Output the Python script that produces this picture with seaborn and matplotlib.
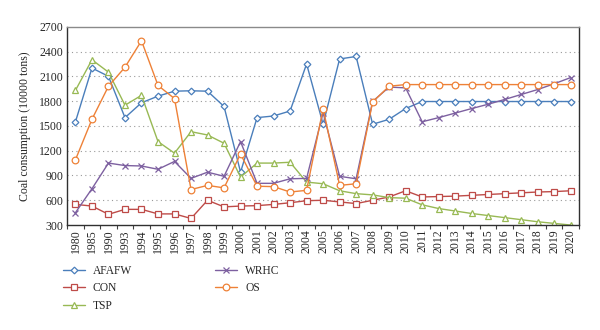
import numpy as np
import pandas as pd
import matplotlib
matplotlib.use("Agg")
import matplotlib.pyplot as plt
import seaborn as sns

years = ["1980", "1985", "1990"] + [str(y) for y in range(1993, 2021)]

afafw = [1550, 2200, 2100, 1600, 1780, 1860, 1920, 1925, 1920, 1735,
         940, 1600, 1620, 1680, 2250, 1520, 2310, 2340, 1520, 1580,
         1710, 1795, 1795, 1795, 1795, 1795, 1795, 1795, 1795, 1795, 1795]
con = [550, 530, 430, 490, 490, 435, 435, 380, 600, 520,
       530, 535, 550, 570, 595, 600, 580, 560, 600, 640,
       715, 640, 645, 650, 660, 670, 680, 690, 700, 705, 715]
tsp = [1930, 2300, 2150, 1750, 1870, 1310, 1170, 1430, 1390, 1290,
       880, 1050, 1050, 1060, 820, 800, 715, 680, 665, 632,
       625, 545, 500, 470, 440, 415, 390, 365, 340, 320, 300]
wrhc = [450, 740, 1050, 1020, 1015, 975, 1070, 865, 940, 890,
        1310, 805, 805, 860, 865, 1660, 890, 860, 1796, 1970,
        1960, 1550, 1600, 1655, 1710, 1762, 1820, 1880, 1940, 2010, 2085]
os_ = [1090, 1580, 1980, 2210, 2530, 1990, 1830, 730, 780, 750,
       1160, 770, 765, 700, 720, 1710, 780, 800, 1790, 1980,
       2000, 2000, 2000, 2000, 2000, 2000, 2000, 2000, 2000, 2000, 2000]

series_names = ["AFAFW", "CON", "TSP", "WRHC", "OS"]
series_vals = [afafw, con, tsp, wrhc, os_]
colors = ["#4A7EBB", "#BE4B48", "#98B954", "#7D60A0", "#EE8137"]
markers = ["D", "s", "^", "x", "o"]
msizes = [3.4, 4.2, 4.6, 4.6, 4.8]

y_ticks = [300, 600, 900, 1200, 1500, 1800, 2100, 2400, 2700]

sns.set_theme(style="white")
plt.rcParams["font.family"] = ["Liberation Serif", "DejaVu Serif"]

fig = plt.figure(figsize=(6.0, 3.3), dpi=100)
ax = fig.add_axes([0.112, 0.318, 0.853, 0.601])

pos = np.arange(len(years))
for name, vals, c, m, ms in zip(series_names, series_vals, colors, markers, msizes):
    df = pd.DataFrame({"x": pos, "y": vals})
    sns.lineplot(data=df, x="x", y="y", ax=ax, color=c, marker=m, markersize=ms,
                 markerfacecolor="white", markeredgecolor=c, markeredgewidth=0.9,
                 linewidth=1.0, label=name, legend=False)

ax.set_xlim(-0.5, len(years) - 0.5)
ax.set_ylim(300, 2700)
ax.set_yticks(y_ticks)
ax.set_yticklabels([str(v) for v in y_ticks], fontsize=8.5)
ax.set_xticks(pos)
ax.set_xticklabels(years, rotation=90, fontsize=8.5)
ax.set_xticks(np.arange(len(years) + 1) - 0.5, minor=True)
ax.tick_params(axis="x", which="major", length=0, pad=3)
ax.tick_params(axis="x", which="minor", length=3, width=0.8, direction="out", color="#404040", bottom=True)
ax.tick_params(axis="y", length=0, pad=3)
ax.set_xlabel("")
ax.set_ylabel("Coal consumption (10000 tons)", fontsize=8.5, labelpad=6)

for yv in y_ticks[1:-1]:
    ax.axhline(yv, color="#9A9A9A", linestyle=(0, (1, 3)), linewidth=0.8, zorder=0)

for side in ["left", "bottom", "right"]:
    ax.spines[side].set_color("#303030")
    ax.spines[side].set_linewidth(1.0)
ax.spines["top"].set_color("#8A8A8A")
ax.spines["top"].set_linewidth(1.0)

handles, labels = ax.get_legend_handles_labels()
leg = fig.legend(handles, labels, loc="upper left", bbox_to_anchor=(0.105, 0.198),
                 ncol=2, frameon=False, fontsize=8.3, handlelength=1.9,
                 handletextpad=0.7, columnspacing=7.2, labelspacing=0.5,
                 borderaxespad=0, borderpad=0)

fig.savefig("out.png", dpi=100)
